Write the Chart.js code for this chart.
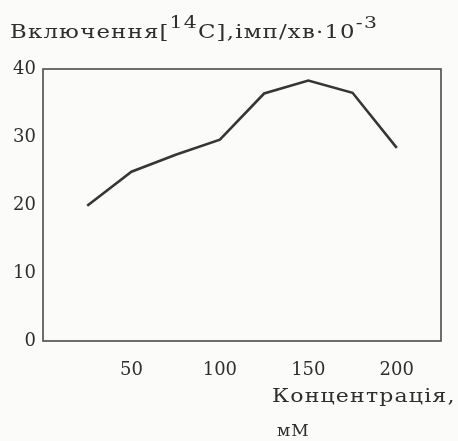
<!DOCTYPE html>
<html>
<head>
<meta charset="utf-8">
<script src="https://cdn.jsdelivr.net/npm/chart.js@4.4.1/dist/chart.umd.min.js"></script>
<style>
  html, body { margin: 0; padding: 0; background: #fbfbf9; }
  #wrap { position: relative; width: 458px; height: 441px; overflow: hidden; }
  canvas { position: absolute; left: 0; top: 0; }
  .lbl { position: absolute; font-family: "DejaVu Serif", serif; color: #2e2e2e; white-space: nowrap; transform-origin: 0 0; }
  .sup { position: relative; font-size: 17px; top: -10px; }
</style>
</head>
<body>
<div id="wrap">
  <canvas id="c" width="458" height="441"></canvas>
  <div class="lbl" id="ytitle" style="left:10px; top:20px; font-size:19px; letter-spacing:1px; transform:scaleX(1.2);">Включення[<span class="sup">14</span>C],імп/хв·10<span class="sup">-3</span></div>
  <div class="lbl" id="xtitle1" style="left:272px; top:384px; font-size:19px; letter-spacing:1px; transform:scaleX(1.16);">Концентрація,</div>
  <div class="lbl" id="xtitle2" style="left:277px; top:420px; font-size:17px; letter-spacing:1px;">мМ</div>
</div>
<script>
// Data
const concentrations = [25, 50, 75, 100, 125, 150, 175, 200];
const incorporation = [19.9, 24.9, 27.4, 29.6, 36.4, 38.3, 36.5, 28.4];
const xTickValues = [50, 100, 150, 200];
const yTickValues = [0, 10, 20, 30, 40];

const boxPlugin = {
  id: 'box',
  afterDraw(chart) {
    const a = chart.chartArea;
    const ctx = chart.ctx;
    ctx.save();
    ctx.strokeStyle = '#4a4a4a';
    ctx.lineWidth = 1.6;
    ctx.strokeRect(a.left, a.top, a.right - a.left, a.bottom - a.top);
    ctx.restore();
  }
};

const tickFont = { family: '"DejaVu Serif", serif', size: 18 };

new Chart(document.getElementById('c'), {
  type: 'line',
  data: {
    datasets: [{
      data: concentrations.map((x, i) => ({ x: x, y: incorporation[i] })),
      borderColor: '#363636',
      borderWidth: 2.6,
      pointRadius: 0,
      tension: 0,
      fill: false
    }]
  },
  options: {
    responsive: false,
    animation: false,
    layout: { padding: { top: 69, right: 17, left: 0, bottom: 0 } },
    plugins: { legend: { display: false }, tooltip: { enabled: false } },
    scales: {
      x: {
        type: 'linear',
        min: 0,
        max: 225,
        afterBuildTicks: s => { s.ticks = xTickValues.map(v => ({ value: v })); },
        afterFit: s => { s.height = 100; },
        grid: { display: false, drawTicks: false },
        border: { display: false },
        ticks: { font: tickFont, color: '#2e2e2e', padding: 19, maxRotation: 0 }
      },
      y: {
        min: 0,
        max: 40,
        afterBuildTicks: s => { s.ticks = yTickValues.map(v => ({ value: v })); },
        afterFit: s => { s.width = 43; },
        grid: { display: false, drawTicks: false },
        border: { display: false },
        ticks: { font: tickFont, color: '#2e2e2e', padding: 7 }
      }
    }
  },
  plugins: [boxPlugin]
});
</script>
</body>
</html>
